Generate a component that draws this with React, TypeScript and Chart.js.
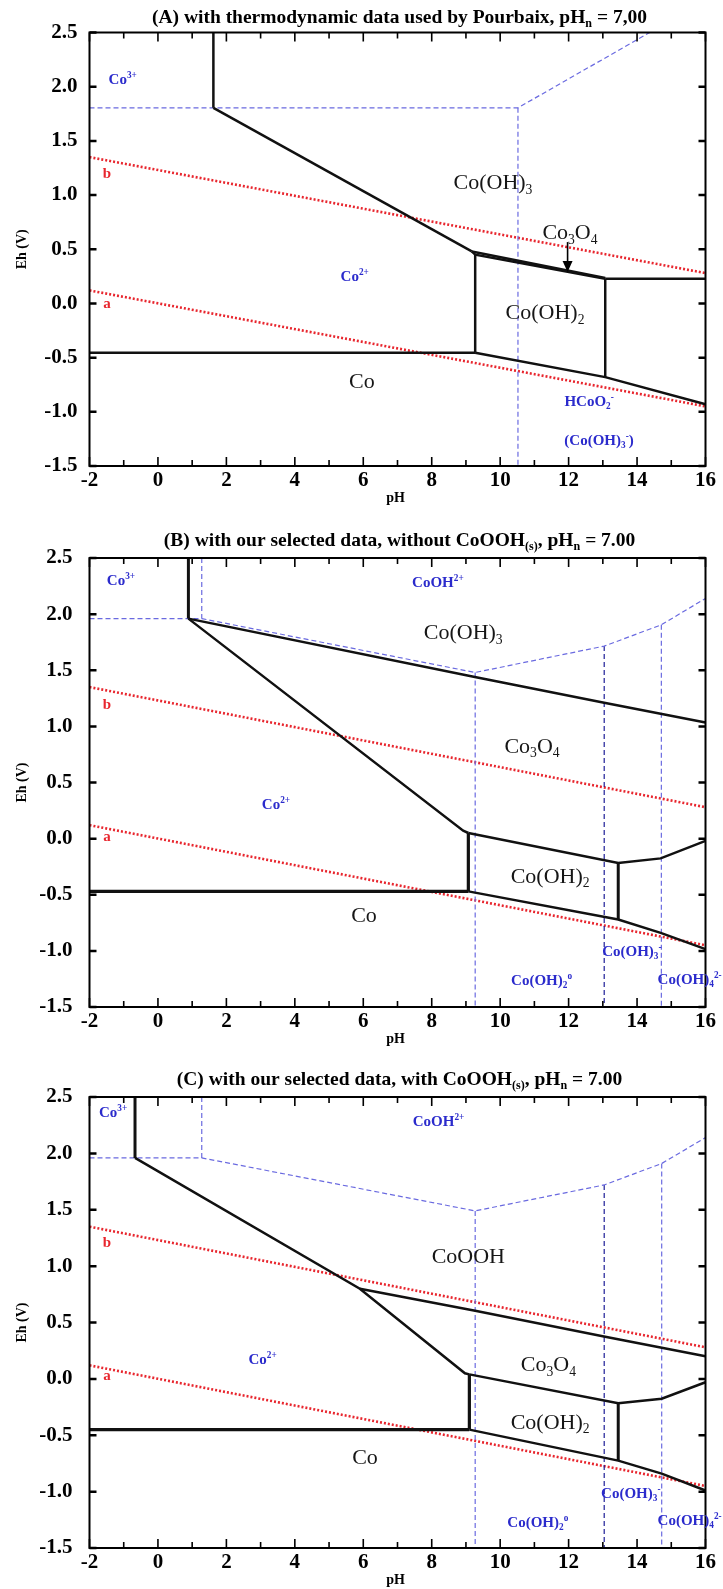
import React, { useEffect, useRef } from "react";
import { Chart, registerables } from "chart.js";
Chart.register(...registerables);

type Pt = [number, number];
type Part = [string, "" | "sub" | "sup"];

const SERIF = '"Liberation Serif", "Times New Roman", serif';
const PH_MIN = -2;
const PH_MAX = 16;
const EH_MIN = -1.5;
const EH_MAX = 2.5;

// ---- water stability lines (same in all panels) ----
const WATER_A: Pt[] = [[-2, 0.12], [16, -0.95]];
const WATER_B: Pt[] = [[-2, 1.35], [16, 0.28]];

// ---- Panel A boundaries ----
const A_CO3_VERT: Pt[] = [[1.62, 2.5], [1.62, 1.805]];
const A_CO2_COOH3: Pt[] = [[1.62, 1.805], [9.17, 0.48]];
const A_COOH3_CO3O4: Pt[] = [[9.17, 0.48], [13.07, 0.235]];
const A_CO3O4_COOH2: Pt[] = [[9.17, 0.48], [9.27, 0.45], [13.07, 0.228]];
const A_CO3O4_HCOO2: Pt[] = [[13.07, 0.228], [16, 0.228]];
const A_CO2_COOH2: Pt[] = [[9.27, 0.45], [9.27, -0.455]];
const A_CO_CO2: Pt[] = [[-2, -0.455], [9.27, -0.455]];
const A_CO_COOH2: Pt[] = [[9.27, -0.455], [13.07, -0.68], [16, -0.93]];
const A_COOH2_HCOO2: Pt[] = [[13.07, 0.228], [13.07, -0.68]];
const A_DASH_H: Pt[] = [[-2, 1.805], [10.52, 1.805], [14.37, 2.5]];
const A_DASH_V: Pt[] = [[10.52, 1.805], [10.52, -1.5]];
const A_ARROW: Pt[] = [[11.97, 0.566], [11.97, 0.29]];

// ---- Panel B boundaries ----
const B_CO3_VERT: Pt[] = [[0.89, 2.5], [0.89, 1.96]];
const B_CO2_CO3O4: Pt[] = [[0.89, 1.96], [8.92, 0.07], [9.07, 0.05]];
const B_COOH3_CO3O4: Pt[] = [[0.89, 1.96], [9.26, 1.44], [13.04, 1.21], [16, 1.035]];
const B_CO3O4_COOH2: Pt[] = [[9.07, 0.05], [13.45, -0.216], [14.69, -0.176], [16, -0.02]];
const B_CO2_COOH2: Pt[] = [[9.07, 0.05], [9.07, -0.47]];
const B_CO_CO2: Pt[] = [[-2, -0.47], [9.07, -0.47]];
const B_CO_COOH2: Pt[] = [[9.07, -0.47], [13.45, -0.72], [14.69, -0.84], [16, -0.985]];
const B_COOH2_RIGHT: Pt[] = [[13.45, -0.216], [13.45, -0.72]];
const B_DASH_TOP: Pt[] = [[-2, 1.96], [1.28, 1.96], [9.27, 1.48], [13.04, 1.715], [14.71, 1.905], [16, 2.14]];
const B_DASH_V1: Pt[] = [[1.28, 2.5], [1.28, 1.96]];
const B_DASH_V2: Pt[] = [[9.27, 1.48], [9.27, -1.5]];
const B_DASH_V3: Pt[] = [[13.04, 1.715], [13.04, -1.5]];
const B_DASH_V4: Pt[] = [[14.71, 1.905], [14.71, -1.5]];

// ---- Panel C boundaries ----
const C_CO3_VERT: Pt[] = [[-0.67, 2.5], [-0.67, 1.96]];
const C_CO2_UPPER: Pt[] = [[-0.67, 1.96], [5.9, 0.8], [8.97, 0.05], [9.1, 0.04]];
const C_COOOH_CO3O4: Pt[] = [[5.9, 0.8], [9.27, 0.605], [13.07, 0.373], [16, 0.2]];
const C_CO3O4_COOH2: Pt[] = [[9.1, 0.04], [13.45, -0.216], [14.72, -0.176], [16, -0.03]];
const C_CO2_COOH2: Pt[] = [[9.1, 0.04], [9.1, -0.45]];
const C_CO_CO2: Pt[] = [[-2, -0.45], [9.1, -0.45]];
const C_CO_COOH2: Pt[] = [[9.1, -0.45], [13.45, -0.725], [14.72, -0.84], [16, -0.99]];
const C_COOH2_RIGHT: Pt[] = [[13.45, -0.216], [13.45, -0.725]];
const C_DASH_TOP: Pt[] = [[-2, 1.96], [1.28, 1.96], [9.27, 1.49], [13.04, 1.72], [14.72, 1.91], [16, 2.14]];
const C_DASH_V1: Pt[] = [[1.28, 2.5], [1.28, 1.96]];
const C_DASH_V2: Pt[] = [[9.27, 1.49], [9.27, -1.5]];
const C_DASH_V3: Pt[] = [[13.04, 1.72], [13.04, -1.5]];
const C_DASH_V4: Pt[] = [[14.72, 1.91], [14.72, -1.5]];

// ---- text ----
const TITLE_A: Part[] = [["(A) with thermodynamic data used by Pourbaix, pH", ""], ["n", "sub"], [" = 7,00", ""]];
const TITLE_B: Part[] = [["(B) with our selected data, without CoOOH", ""], ["(s)", "sub"], [", pH", ""], ["n", "sub"], [" = 7.00", ""]];
const TITLE_C: Part[] = [["(C) with our selected data, with CoOOH", ""], ["(s)", "sub"], [", pH", ""], ["n", "sub"], [" = 7.00", ""]];

type Label = { ph: number; eh: number; parts: Part[]; kind: "solid" | "ion" | "water"; align?: "center" | "left" };

const LABELS_A: Label[] = [
  { ph: -1.03, eh: 2.07, parts: [["Co", ""], ["3+", "sup"]], kind: "ion" },
  { ph: -1.49, eh: 1.2, parts: [["b", ""]], kind: "water" },
  { ph: -1.49, eh: 0.0, parts: [["a", ""]], kind: "water" },
  { ph: 9.79, eh: 1.12, parts: [["Co(OH)", ""], ["3", "sub"]], kind: "solid" },
  { ph: 12.04, eh: 0.66, parts: [["Co", ""], ["3", "sub"], ["O", ""], ["4", "sub"]], kind: "solid" },
  { ph: 5.75, eh: 0.25, parts: [["Co", ""], ["2+", "sup"]], kind: "ion" },
  { ph: 11.31, eh: -0.08, parts: [["Co(OH)", ""], ["2", "sub"]], kind: "solid" },
  { ph: 5.96, eh: -0.71, parts: [["Co", ""]], kind: "solid" },
  { ph: 12.6, eh: -0.9, parts: [["HCoO", ""], ["2", "sub"], ["-", "sup"]], kind: "ion" },
  { ph: 12.89, eh: -1.26, parts: [["(Co(OH)", ""], ["3", "sub"], ["-", "sup"], [")", ""]], kind: "ion" },
];

const LABELS_B: Label[] = [
  { ph: -1.08, eh: 2.3, parts: [["Co", ""], ["3+", "sup"]], kind: "ion" },
  { ph: 8.18, eh: 2.29, parts: [["CoOH", ""], ["2+", "sup"]], kind: "ion" },
  { ph: 8.92, eh: 1.84, parts: [["Co(OH)", ""], ["3", "sub"]], kind: "solid" },
  { ph: -1.49, eh: 1.2, parts: [["b", ""]], kind: "water" },
  { ph: -1.49, eh: 0.02, parts: [["a", ""]], kind: "water" },
  { ph: 10.93, eh: 0.83, parts: [["Co", ""], ["3", "sub"], ["O", ""], ["4", "sub"]], kind: "solid" },
  { ph: 3.45, eh: 0.31, parts: [["Co", ""], ["2+", "sup"]], kind: "ion" },
  { ph: 11.46, eh: -0.33, parts: [["Co(OH)", ""], ["2", "sub"]], kind: "solid" },
  { ph: 6.02, eh: -0.68, parts: [["Co", ""]], kind: "solid" },
  { ph: 12.98, eh: -1.0, parts: [["Co(OH)", ""], ["3", "sub"], ["-", "sup"]], kind: "ion", align: "left" },
  { ph: 11.21, eh: -1.26, parts: [["Co(OH)", ""], ["2", "sub"], ["o", "sup"]], kind: "ion" },
  { ph: 14.6, eh: -1.25, parts: [["Co(OH)", ""], ["4", "sub"], ["2-", "sup"]], kind: "ion", align: "left" },
];

const LABELS_C: Label[] = [
  { ph: -1.31, eh: 2.37, parts: [["Co", ""], ["3+", "sup"]], kind: "ion" },
  { ph: 8.2, eh: 2.29, parts: [["CoOH", ""], ["2+", "sup"]], kind: "ion" },
  { ph: 9.07, eh: 1.09, parts: [["CoOOH", ""]], kind: "solid" },
  { ph: -1.49, eh: 1.21, parts: [["b", ""]], kind: "water" },
  { ph: -1.49, eh: 0.03, parts: [["a", ""]], kind: "water" },
  { ph: 3.06, eh: 0.18, parts: [["Co", ""], ["2+", "sup"]], kind: "ion" },
  { ph: 11.41, eh: 0.13, parts: [["Co", ""], ["3", "sub"], ["O", ""], ["4", "sub"]], kind: "solid" },
  { ph: 11.46, eh: -0.38, parts: [["Co(OH)", ""], ["2", "sub"]], kind: "solid" },
  { ph: 6.05, eh: -0.69, parts: [["Co", ""]], kind: "solid" },
  { ph: 12.95, eh: -1.01, parts: [["Co(OH)", ""], ["3", "sub"], ["-", "sup"]], kind: "ion", align: "left" },
  { ph: 11.1, eh: -1.27, parts: [["Co(OH)", ""], ["2", "sub"], ["o", "sup"]], kind: "ion" },
  { ph: 14.6, eh: -1.25, parts: [["Co(OH)", ""], ["4", "sub"], ["2-", "sup"]], kind: "ion", align: "left" },
];

// ---- styles ----
const BLACK = "#111111";
const BLUE_L = "#6a6ae0";
const BLUE_D = "#1c1c96";
const RED = "#e8262e";
const TXT_BLUE = "#2b2bcc";

type LineDef = { pts: Pt[]; color: string; width: number; dash?: number[] };

const blk = (pts: Pt[], width = 2.5): LineDef => ({ pts, color: BLACK, width });
const blu = (pts: Pt[], color = BLUE_L): LineDef => ({ pts, color, width: 1.2, dash: [5, 3] });
const red = (pts: Pt[]): LineDef => ({ pts, color: RED, width: 2.6, dash: [2, 2] });

type PanelCfg = {
  top: number;
  height: number;
  padTop: number;
  xAxisH: number;
  yPad: number;
  titleY: number;
  title: Part[];
  lines: LineDef[];
  labels: Label[];
  arrow?: Pt[];
};

const PANELS: PanelCfg[] = [
  {
    top: 0, height: 520, padTop: 32.5, xAxisH: 54, yPad: 12, titleY: 17, title: TITLE_A,
    lines: [
      blk(A_CO3_VERT), blk(A_CO2_COOH3), blk(A_COOH3_CO3O4), blk(A_CO3O4_COOH2), blk(A_CO3O4_HCOO2),
      blk(A_CO2_COOH2), blk(A_CO_CO2), blk(A_CO_COOH2), blk(A_COOH2_HCOO2),
      blu(A_DASH_H), blu(A_DASH_V),
      red(WATER_A), red(WATER_B),
    ],
    labels: LABELS_A,
    arrow: A_ARROW,
  },
  {
    top: 520, height: 540, padTop: 38, xAxisH: 53, yPad: 17, titleY: 20, title: TITLE_B,
    lines: [
      blk(B_CO3_VERT, 3), blk(B_CO2_CO3O4), blk(B_COOH3_CO3O4), blk(B_CO3O4_COOH2), blk(B_CO2_COOH2, 3.2),
      blk(B_CO_CO2, 3.4), blk(B_CO_COOH2), blk(B_COOH2_RIGHT, 3),
      blu(B_DASH_TOP), blu(B_DASH_V1), blu(B_DASH_V2), blu(B_DASH_V3, BLUE_D), blu(B_DASH_V4),
      red(WATER_A), red(WATER_B),
    ],
    labels: LABELS_B,
  },
  {
    top: 1060, height: 529, padTop: 37, xAxisH: 41, yPad: 17, titleY: 18.5, title: TITLE_C,
    lines: [
      blk(C_CO3_VERT, 3), blk(C_CO2_UPPER), blk(C_COOOH_CO3O4), blk(C_CO3O4_COOH2), blk(C_CO2_COOH2, 3.2),
      blk(C_CO_CO2, 3.4), blk(C_CO_COOH2), blk(C_COOH2_RIGHT, 3),
      blu(C_DASH_TOP), blu(C_DASH_V1), blu(C_DASH_V2), blu(C_DASH_V3, BLUE_D), blu(C_DASH_V4),
      red(WATER_A), red(WATER_B),
    ],
    labels: LABELS_C,
  },
];

function drawRich(
  ctx: CanvasRenderingContext2D, parts: Part[], x: number, y: number, size: number,
  weight: string, color: string, align: "center" | "left" = "center"
) {
  const fontFor = (k: string) => `${weight} ${k ? size * 0.62 : size}px ${SERIF}`;
  let total = 0;
  for (const [t, k] of parts) {
    ctx.font = fontFor(k);
    total += ctx.measureText(t).width;
  }
  let cx = align === "center" ? x - total / 2 : x;
  ctx.fillStyle = color;
  ctx.textAlign = "left";
  ctx.textBaseline = "alphabetic";
  const base = y + size * 0.33;
  for (const [t, k] of parts) {
    ctx.font = fontFor(k);
    const dy = k === "sub" ? size * 0.2 : k === "sup" ? -size * 0.4 : 0;
    ctx.fillText(t, cx, base + dy);
    cx += ctx.measureText(t).width;
  }
}

function makeDecor(cfg: PanelCfg) {
  return {
    id: "decor",
    afterDatasetsDraw(chart: any) {
      const { ctx, chartArea: ca } = chart;
      const xs = chart.scales.x;
      const ys = chart.scales.y;
      ctx.save();
      // frame
      ctx.strokeStyle = "#000";
      ctx.lineWidth = 2;
      ctx.setLineDash([]);
      ctx.strokeRect(ca.left, ca.top, ca.right - ca.left, ca.bottom - ca.top);
      // x ticks (inward, top and bottom)
      ctx.lineWidth = 1.6;
      for (let v = PH_MIN; v <= PH_MAX; v++) {
        const px = xs.getPixelForValue(v);
        const len = Math.abs(v % 2) === 0 ? 9 : 6;
        ctx.beginPath();
        ctx.moveTo(px, ca.bottom);
        ctx.lineTo(px, ca.bottom - len);
        ctx.moveTo(px, ca.top);
        ctx.lineTo(px, ca.top + len);
        ctx.stroke();
      }
      // y ticks
      for (let v = EH_MIN; v <= EH_MAX + 1e-9; v += 0.5) {
        const py = ys.getPixelForValue(v);
        ctx.lineWidth = 2.5;
        ctx.beginPath();
        ctx.moveTo(ca.left, py);
        ctx.lineTo(ca.left + 7, py);
        ctx.moveTo(ca.right, py);
        ctx.lineTo(ca.right - 7, py);
        ctx.stroke();
      }
      // labels
      for (const l of cfg.labels) {
        const px = xs.getPixelForValue(l.ph);
        const py = ys.getPixelForValue(l.eh);
        if (l.kind === "solid") drawRich(ctx, l.parts, px, py, 22, "normal", "#161616", l.align);
        else if (l.kind === "ion") drawRich(ctx, l.parts, px, py, 15, "bold", TXT_BLUE, l.align);
        else drawRich(ctx, l.parts, px, py, 15, "bold", RED, l.align);
      }
      // arrow
      if (cfg.arrow) {
        const [p0, p1] = cfg.arrow;
        const x0 = xs.getPixelForValue(p0[0]);
        const y0 = ys.getPixelForValue(p0[1]);
        const x1 = xs.getPixelForValue(p1[0]);
        const y1 = ys.getPixelForValue(p1[1]);
        ctx.strokeStyle = "#000";
        ctx.lineWidth = 1.6;
        ctx.beginPath();
        ctx.moveTo(x0, y0);
        ctx.lineTo(x1, y1 - 8);
        ctx.stroke();
        ctx.fillStyle = "#000";
        ctx.beginPath();
        ctx.moveTo(x1, y1);
        ctx.lineTo(x1 - 5, y1 - 11);
        ctx.lineTo(x1 + 5, y1 - 11);
        ctx.closePath();
        ctx.fill();
      }
      // title
      drawRich(ctx, cfg.title, (ca.left + ca.right) / 2 + 2, cfg.titleY, 19.5, "bold", "#000");
      // axis titles
      drawRich(ctx, [["pH", ""]], (ca.left + ca.right) / 2 - 2, ca.bottom + 31, 14, "bold", "#000");
      ctx.translate(21, (ca.top + ca.bottom) / 2);
      ctx.rotate(-Math.PI / 2);
      drawRich(ctx, [["Eh (V)", ""]], 0, 0, 14, "bold", "#000");
      ctx.restore();
    },
  };
}

function Panel({ cfg }: { cfg: PanelCfg }) {
  const ref = useRef<HTMLCanvasElement | null>(null);
  useEffect(() => {
    if (!ref.current) return;
    const tickFont = { family: SERIF, size: 21, weight: "bold" as const };
    const chart = new Chart(ref.current, {
      type: "scatter",
      data: {
        datasets: cfg.lines.map((l) => ({
          data: l.pts.map(([x, y]) => ({ x, y })),
          showLine: true,
          borderColor: l.color,
          backgroundColor: l.color,
          borderWidth: l.width,
          borderDash: l.dash || [],
          pointRadius: 0,
          pointHoverRadius: 0,
          tension: 0,
          fill: false,
        })),
      },
      options: {
        responsive: false,
        animation: false,
        devicePixelRatio: 1,
        events: [],
        layout: { padding: { top: cfg.padTop, right: 17.5, bottom: 0, left: 0 } },
        plugins: { legend: { display: false }, tooltip: { enabled: false }, title: { display: false } },
        scales: {
          x: {
            type: "linear",
            min: PH_MIN,
            max: PH_MAX,
            grid: { display: false, drawTicks: false },
            border: { display: false },
            ticks: {
              stepSize: 2, autoSkip: false, maxRotation: 0, padding: 2, color: "#000", font: tickFont,
              callback: (v: any) => String(v),
            },
            afterFit: (s: any) => { s.height = cfg.xAxisH; },
          },
          y: {
            type: "linear",
            min: EH_MIN,
            max: EH_MAX,
            grid: { display: false, drawTicks: false },
            border: { display: false },
            ticks: {
              stepSize: 0.5, autoSkip: false, padding: cfg.yPad, color: "#000", font: tickFont,
              callback: (v: any) => Number(v).toFixed(1),
            },
            afterFit: (s: any) => { s.width = 89.5; },
          },
        },
      } as any,
      plugins: [makeDecor(cfg)],
    });
    return () => chart.destroy();
  }, [cfg]);
  return (
    <div style={{ position: "absolute", left: 0, top: cfg.top, width: 723, height: cfg.height }}>
      <canvas ref={ref} width={723} height={cfg.height} style={{ width: 723, height: cfg.height, display: "block" }} />
    </div>
  );
}

export default function App() {
  return (
    <div style={{ position: "absolute", left: 0, top: 0, width: 723, height: 1589, background: "#fff", overflow: "hidden" }}>
      {PANELS.map((p, i) => (
        <Panel key={i} cfg={p} />
      ))}
    </div>
  );
}
